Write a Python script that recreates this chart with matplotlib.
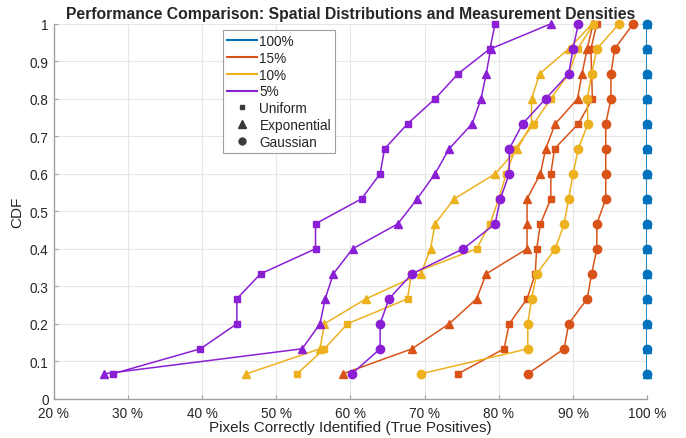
import matplotlib
matplotlib.use("Agg")
import matplotlib.pyplot as plt
from matplotlib.lines import Line2D
import numpy as np

plt.rcParams['font.family'] = ['Liberation Sans', 'DejaVu Sans']

# CDF levels (15 samples)
cdf = [1/15, 2/15, 3/15, 4/15, 5/15, 6/15, 7/15, 8/15, 9/15, 10/15,
       11/15, 12/15, 13/15, 14/15, 1.0]

# 100% density - everything is identified
d100_uni = [100] * 15
d100_exp = [100] * 15
d100_gau = [100] * 15

# 15% density
d15_uni = [74.5, 80.7, 81.4, 83.8, 84.9, 85.1, 85.6, 87.0, 87.0, 87.5,
           90.7, 92.6, 92.5, 92.4, 93.2]
d15_exp = [59.0, 68.3, 73.3, 77.0, 78.3, 83.8, 83.8, 83.8, 85.6, 86.3,
           87.6, 90.6, 91.2, 91.9, 92.7]
d15_gau = [83.9, 88.8, 89.4, 91.9, 92.5, 93.2, 93.2, 94.4, 94.4, 94.4,
           94.4, 95.1, 95.1, 95.6, 98.1]

# 10% density
d10_uni = [52.8, 56.5, 59.6, 67.7, 68.2, 77.0, 78.8, 80.0, 81.0, 82.2,
           84.7, 87.0, 89.4, 90.6, 92.8]
d10_exp = [46.0, 55.9, 56.5, 62.1, 69.5, 70.8, 71.4, 74.0, 79.5, 82.5,
           84.4, 84.4, 85.5, 89.4, 92.6]
d10_gau = [69.5, 83.9, 83.9, 84.4, 85.1, 87.6, 88.8, 89.4, 90.0, 90.7,
           92.0, 91.9, 92.5, 93.2, 96.2]

# 5% density
d5_uni = [28.0, 39.8, 44.7, 44.7, 47.9, 55.3, 55.3, 61.5, 64.0, 64.6,
          67.7, 71.4, 74.5, 78.8, 79.5]
d5_exp = [26.8, 53.5, 55.9, 56.6, 57.7, 60.3, 66.4, 69.0, 71.4, 73.3,
          76.4, 77.6, 78.3, 78.9, 87.0]
d5_gau = [60.2, 64.0, 64.0, 65.2, 68.3, 75.2, 79.5, 80.2, 81.4, 81.4,
          83.2, 86.3, 89.4, 90.0, 90.7]

densities = ['100%', '15%', '10%', '5%']
colors = ['#0072BD', '#D95319', '#EDB120', '#8A1FD6']
series = [
    [d100_uni, d100_exp, d100_gau],
    [d15_uni, d15_exp, d15_gau],
    [d10_uni, d10_exp, d10_gau],
    [d5_uni, d5_exp, d5_gau],
]
dist_names = ['Uniform', 'Exponential', 'Gaussian']
markers = ['s', '^', 'o']
msizes = [4.5, 6.2, 6.0]

fig = plt.figure(figsize=(6.86, 4.39), dpi=100)
ax = fig.add_axes([0.078, 0.0893, 0.8656, 0.8542])

for i in range(len(densities)):
    for j in range(3):
        if i == 0:
            lw, alpha = 2.2, 0.45
        else:
            lw, alpha = 1.1, 1.0
        ax.plot(series[i][j], cdf, '-', color=colors[i], lw=lw, alpha=alpha, zorder=2 + i)
        ax.plot(series[i][j], cdf, linestyle='none', marker=markers[j], ms=msizes[j],
                color=colors[i], zorder=2 + i, clip_on=False)

ax.set_xlim(20, 100)
ax.set_ylim(0, 1)
ax.set_xticks(np.arange(20, 101, 10))
ax.set_xticklabels(['%d %%' % v for v in range(20, 101, 10)])
ax.set_yticks(np.arange(0, 1.01, 0.1))
ax.set_yticklabels(['0', '0.1', '0.2', '0.3', '0.4', '0.5', '0.6', '0.7', '0.8', '0.9', '1'])
ax.tick_params(axis='both', direction='in', length=3, color='#a0a0a0',
               labelsize=9.8, labelcolor='#262626')
ax.tick_params(axis='x', pad=5)
ax.grid(True, color='#e6e6e6', lw=0.8)
ax.set_axisbelow(True)
for s in ['top', 'right']:
    ax.spines[s].set_visible(False)
for s in ['left', 'bottom']:
    ax.spines[s].set_color('#a0a0a0')
    ax.spines[s].set_linewidth(1.0)

ax.set_xlabel('Pixels Correctly Identified (True Positives)', fontsize=11, color='#262626', labelpad=0)
ax.set_ylabel('CDF', fontsize=11, color='#262626', labelpad=4)
ax.set_title('Performance Comparison: Spatial Distributions and Measurement Densities',
             fontsize=11.3, fontweight='bold', color='#262626', pad=4)

# legend: density colours then distribution markers
handles = []
labels = []
for i in range(len(densities)):
    handles.append(Line2D([0], [0], color=colors[i], lw=1.5))
    labels.append(densities[i])
for j in range(3):
    handles.append(Line2D([0], [0], linestyle='none', marker=markers[j],
                          ms=msizes[j] - 1, color='#3a3a3a'))
    labels.append(dist_names[j])
leg = ax.legend(handles, labels, loc='upper left', bbox_to_anchor=(0.285, 0.983),
                fontsize=9.8, frameon=True, fancybox=False, framealpha=1,
                edgecolor='#a0a0a0', handlelength=2.2, handletextpad=0.2,
                labelspacing=0.2, borderpad=0.3, borderaxespad=0)
leg.get_frame().set_linewidth(0.8)
for t in leg.get_texts():
    t.set_color('#262626')

fig.savefig('out.png', dpi=100)
